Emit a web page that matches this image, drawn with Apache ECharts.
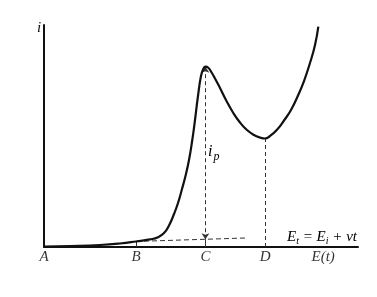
<!DOCTYPE html>
<html><head><meta charset="utf-8">
<script src="https://cdn.jsdelivr.net/npm/echarts@6/dist/echarts.min.js"></script>
<style>html,body{margin:0;padding:0;background:#fff}#c{width:377px;height:297px}</style>
</head><body><div id="c"></div>
<script>
// Voltammetric curve: potential E (0..100) vs current i (0..100)
const curveE = [0, 8.28, 17.83, 24.20, 29.30, 33.76, 36.31, 38.22, 39.81, 41.40, 42.68, 43.95, 45.22, 46.18, 47.13, 48.09, 49.04, 50.00, 50.80, 51.43, 52.23, 53.18, 54.46, 56.05, 57.96, 60.19, 62.42, 64.65, 66.88, 68.79, 70.38, 71.97, 74.20, 76.43, 78.66, 80.89, 82.80, 84.71, 86.31, 87.36];
const curveI = [0.23, 0.45, 0.90, 1.58, 2.48, 3.42, 4.41, 6.31, 9.68, 14.86, 19.82, 26.13, 32.88, 39.19, 47.30, 57.21, 68.02, 77.03, 80.41, 81.22, 80.86, 79.05, 75.90, 71.62, 66.22, 60.59, 56.08, 52.70, 50.45, 49.32, 48.87, 50.00, 52.84, 56.98, 61.71, 68.24, 74.77, 82.88, 90.99, 99.23];
const tickLabels = ['A', 'B', 'C', 'D', 'E(t)'];
const tickE = [0, 29.3, 51.4, 70.4, 88.9];
const baselineE = [29.3, 64.0];
const baselineI = [2.5, 4.05];
const peakE = 51.4, peakI = 81.2, peakBaseI = 3.5;
const minE = 70.4, minI = 48.9;

const black = '#111';
const serif = 'Liberation Serif';
const chart = echarts.init(document.getElementById('c'), null, {renderer: 'canvas'});
chart.setOption({
  animation: false,
  backgroundColor: '#fff',
  grid: {left: 44, right: 19, top: 25, bottom: 50},
  xAxis: {type: 'value', min: 0, max: 100, splitLine: {show: false}, axisTick: {show: false}, axisLabel: {show: false},
    axisLine: {lineStyle: {color: black, width: 2}}},
  yAxis: {type: 'value', min: 0, max: 100, splitLine: {show: false}, axisTick: {show: false}, axisLabel: {show: false},
    axisLine: {show: true, lineStyle: {color: black, width: 2}}},
  graphic: [
    {type: 'text', left: 37, top: 21, style: {text: 'i', font: 'italic 15px "Liberation Serif"', fill: black}},
    {type: 'text', left: 208, top: 144, style: {text: '{a|i}{b|p}', rich: {a: {fontFamily: serif, fontStyle: 'italic', fontSize: 16, color: black}, b: {fontFamily: serif, fontStyle: 'italic', fontSize: 12, color: black, padding: [9, 0, 0, 1]}}}},
    {type: 'text', left: 287, top: 230, style: {text: '{a|E}{s|t}{a| = E}{s|i}{a| + νt}', rich: {a: {fontFamily: serif, fontStyle: 'italic', fontSize: 15, color: black}, s: {fontFamily: serif, fontStyle: 'italic', fontSize: 10, color: black, padding: [8, 0, 0, 0]}}}}
  ],
  series: [
    {type: 'line', data: curveE.map((e, k) => [e, curveI[k]]), smooth: 0.5, showSymbol: false, symbol: 'none',
      lineStyle: {color: black, width: 2.2}, z: 5},
    {type: 'line', data: baselineE.map((e, k) => [e, baselineI[k]]), showSymbol: false, symbol: 'none',
      lineStyle: {color: '#333', width: 1, type: [5, 3]}},
    {type: 'lines', coordinateSystem: 'cartesian2d', symbol: ['arrow', 'arrow'], symbolSize: 6,
      lineStyle: {color: '#333', width: 1, type: [4, 3], opacity: 1},
      data: [{coords: [[peakE, peakBaseI], [peakE, peakI]]}]},
    {type: 'lines', coordinateSystem: 'cartesian2d', symbol: 'none',
      lineStyle: {color: '#333', width: 1, type: [4, 3], opacity: 1},
      data: [{coords: [[minE, 0], [minE, minI]]}]},
    {type: 'lines', coordinateSystem: 'cartesian2d', symbol: 'none',
      lineStyle: {color: '#333', width: 1, opacity: 1},
      data: [{coords: [[baselineE[0], 0], [baselineE[0], baselineI[0]]]}, {coords: [[peakE, 0], [peakE, peakBaseI]]}]},
    {type: 'scatter', symbolSize: 0, data: tickE.map((e, k) => ({value: [e, 0], name: tickLabels[k]})),
      label: {show: true, position: 'bottom', distance: 3, formatter: p => p.name,
        fontFamily: serif, fontStyle: 'italic', fontSize: 15, color: '#000'}}
  ]
});
</script></body></html>
